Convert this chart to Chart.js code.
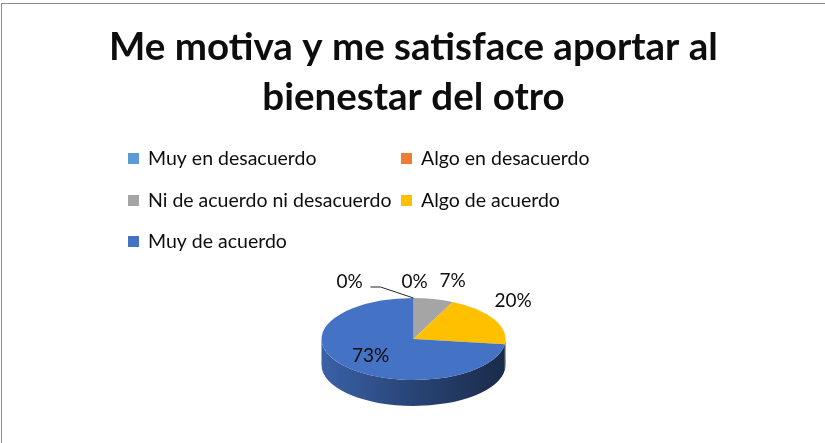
<!DOCTYPE html>
<html>
<head>
<meta charset="utf-8">
<script src="https://cdn.jsdelivr.net/npm/chart.js@4.4.0/dist/chart.umd.min.js"></script>
<style>
  html, body { margin: 0; padding: 0; background: #fff; overflow: hidden; }
  #frame {
    position: absolute; left: 1px; top: 3px; width: 823px; height: 439px;
    border-left: 1px solid #8c8c8c; border-top: 1px solid #8c8c8c;
  }
  canvas { display: block; }
</style>
</head>
<body>
<div id="frame"><canvas id="chart" width="823" height="439"></canvas></div>
<script>
// Datos del gráfico
const categories = ['Muy en desacuerdo', 'Algo en desacuerdo', 'Ni de acuerdo ni desacuerdo', 'Algo de acuerdo', 'Muy de acuerdo'];
const percentages = [0, 0, 7, 20, 73];
const sliceColors = ['#5B9BD5', '#ED7D31', '#A5A5A5', '#FFC000', '#4472C4'];
const titleLines = ['Me motiva y me satisface aportar al', 'bienestar del otro'];

// Aspecto "3D": inclinación del disco y grosor del canto
const TILT = 41 / 92;
const DEPTH = 26;
const FONT = 'Lato, "Open Sans", sans-serif';
const TEXT_COLOR = '#0d0d0d';

function shade(hex, f) {
    const n = parseInt(hex.slice(1), 16);
    const r = Math.round(((n >> 16) & 255) * f);
    const g = Math.round(((n >> 8) & 255) * f);
    const b = Math.round((n & 255) * f);
    return `rgb(${r}, ${g}, ${b})`;
}

const pie3d = {
    id: 'pie3d',
    beforeDatasetsDraw(chart) {
        const ctx = chart.ctx;
        const arcs = chart.getDatasetMeta(0).data;
        const { x: cx, y: cy, outerRadius: r } = arcs[0];
        ctx.save();
        ctx.translate(cx, cy);
        ctx.scale(1, TILT);
        ctx.translate(-cx, -cy);
        const d = DEPTH / TILT;
        // canto frontal (ángulos 0..PI en el canvas)
        arcs.forEach((arc, i) => {
            const a1 = Math.max(arc.startAngle, 0);
            const a2 = Math.min(arc.endAngle, Math.PI);
            if (a2 <= a1) return;
            const color = chart.data.datasets[0].backgroundColor[i];
            const grad = ctx.createLinearGradient(cx - r, 0, cx + r, 0);
            grad.addColorStop(0, shade(color, 0.85));
            grad.addColorStop(0.45, shade(color, 0.62));
            grad.addColorStop(1, shade(color, 0.38));
            ctx.beginPath();
            ctx.arc(cx, cy, r, a1, a2);
            ctx.arc(cx, cy + d, r, a2, a1, true);
            ctx.closePath();
            ctx.fillStyle = grad;
            ctx.fill();
        });
    },
    afterDatasetsDraw(chart) {
        const ctx = chart.ctx;
        ctx.restore();

        // etiquetas de datos
        const arcs = chart.getDatasetMeta(0).data;
        const { x: cx, y: cy, outerRadius: r } = arcs[0];
        const values = chart.data.datasets[0].data;
        ctx.save();
        ctx.font = '19px ' + FONT;
        ctx.fillStyle = TEXT_COLOR;
        ctx.textAlign = 'center';
        ctx.textBaseline = 'middle';
        const zeros = [];
        arcs.forEach((arc, i) => {
            const v = values[i];
            if (v === 0) { zeros.push(arc); return; }
            const mid = (arc.startAngle + arc.endAngle) / 2;
            let lx, ly;
            if (v >= 50) {
                lx = cx + 0.62 * r * Math.cos(mid);
                ly = cy + 0.62 * r * TILT * Math.sin(mid);
            } else {
                lx = cx + r * Math.cos(mid) + 19;
                ly = cy + r * TILT * Math.sin(mid) - 18;
            }
            ctx.fillText(v + '%', lx, ly);
        });
        // los 0% caen en el mismo punto: se reparten hacia la izquierda
        zeros.forEach((arc, k) => {
            const px = cx + r * Math.cos(arc.startAngle);
            const py = cy + r * TILT * Math.sin(arc.startAngle);
            const shift = zeros.length - 1 - k;
            const lx = px + 1 - 65 * shift;
            const ly = py - 16;
            ctx.fillText('0%', lx, ly);
            if (shift > 0) {
                ctx.beginPath();
                ctx.moveTo(lx + 21, ly + 5);
                ctx.lineTo(lx + 31, ly + 5);
                ctx.lineTo(px, py);
                ctx.strokeStyle = '#262626';
                ctx.lineWidth = 1;
                ctx.stroke();
            }
        });
        ctx.restore();
    },
    afterDraw(chart) {
        // leyenda en dos columnas
        const ctx = chart.ctx;
        const cols = [126, 399];
        const rows = [155, 197, 238];
        const ds = chart.data.datasets[0];
        ctx.save();
        ctx.font = '19.5px ' + FONT;
        ctx.textBaseline = 'middle';
        ctx.textAlign = 'left';
        chart.data.labels.forEach((label, i) => {
            const x = cols[i % 2];
            const y = rows[Math.floor(i / 2)];
            ctx.fillStyle = ds.backgroundColor[i];
            ctx.fillRect(x, y - 6, 11, 11);
            ctx.fillStyle = TEXT_COLOR;
            ctx.fillText(label, x + 20, y);
        });
        ctx.restore();
    }
};

new Chart(document.getElementById('chart'), {
    type: 'pie',
    data: {
        labels: categories,
        datasets: [{
            data: percentages,
            backgroundColor: sliceColors,
            borderWidth: 0
        }]
    },
    options: {
        responsive: false,
        animation: false,
        events: [],
        layout: { padding: { bottom: 12 } },
        plugins: {
            legend: { display: false },
            tooltip: { enabled: false },
            title: {
                display: true,
                text: titleLines,
                color: TEXT_COLOR,
                font: { family: FONT, size: 38.5, weight: 'bold', lineHeight: '50px' },
                padding: { top: 19, bottom: 124 }
            }
        }
    },
    plugins: [pie3d]
});
</script>
</body>
</html>
